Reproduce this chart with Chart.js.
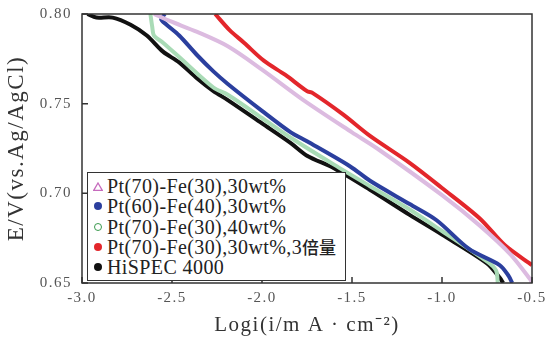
<!DOCTYPE html>
<html lang="zh">
<head>
<meta charset="utf-8">
<title>Polarization curves</title>
<script src="https://cdn.jsdelivr.net/npm/chart.js@4.4.1/dist/chart.umd.min.js"></script>
<style>
body { margin: 0; background: #fff; }
#wrap { position: relative; width: 556px; height: 338px; }
#legend {
    position: absolute; left: 87px; top: 172px; width: 259px; height: 109px;
    box-sizing: border-box; border: 1.5px solid #333; background: #fff;
    font-family: "Liberation Serif", "Times New Roman", serif; font-size: 20px;
    color: #222; letter-spacing: 0.4px; padding-top: 3px;
}
#legend div { height: 20.3px; line-height: 20px; display: flex; align-items: center; white-space: nowrap; }
#legend .mk { width: 19px; display: inline-flex; justify-content: center; align-items: center; }
#legend .dot { width: 8px; height: 8px; border-radius: 50%; box-sizing: border-box; }
#legend .cjk { font-family: "Noto Sans CJK SC", sans-serif; font-size: 17px; font-weight: 500; letter-spacing: 0; }
</style>
</head>
<body>
<div id="wrap">
<canvas id="myChart" width="556" height="338"></canvas>
<div id="legend">
    <div><span class="mk"><svg width="10" height="9"><polygon points="5,1 9.3,8.3 0.7,8.3" fill="none" stroke="#c66bbd" stroke-width="1.3"/></svg></span>Pt(70)-Fe(30),30wt%</div>
    <div><span class="mk"><span class="dot" style="background:#2b3f9e"></span></span>Pt(60)-Fe(40),30wt%</div>
    <div><span class="mk"><span class="dot" style="border:1.5px solid #3a9a4e"></span></span>Pt(70)-Fe(30),40wt%</div>
    <div><span class="mk"><span class="dot" style="background:#e3262b"></span></span>Pt(70)-Fe(30),30wt%,3<span class="cjk">倍量</span></div>
    <div><span class="mk"><span class="dot" style="background:#111"></span></span>HiSPEC 4000</div>
</div>
</div>
<script>
// tick values
var xTicks = [-3.0, -2.5, -2.0, -1.5, -1.0, -0.5];
var yTicks = [0.65, 0.70, 0.75, 0.80];

// Pt(70)-Fe(30),30wt%
var pt70x = [-2.60, -2.51, -2.36, -2.19, -2.00, -1.77, -1.50, -1.36, -1.00, -0.79, -0.62, -0.51, -0.50];
var pt70y = [0.800, 0.796, 0.790, 0.782, 0.769, 0.752, 0.734, 0.725, 0.699, 0.682, 0.666, 0.652, 0.650];

// Pt(60)-Fe(40),30wt%
var pt60x = [-2.54, -2.56, -2.53, -2.46, -2.36, -2.27, -2.19, -2.00, -1.84, -1.75, -1.51, -1.40, -1.18, -1.03, -0.85, -0.68, -0.63, -0.61];
var pt60y = [0.800, 0.797, 0.794, 0.788, 0.777, 0.768, 0.761, 0.746, 0.734, 0.729, 0.715, 0.707, 0.694, 0.685, 0.669, 0.660, 0.654, 0.650];

// Pt(70)-Fe(30),40wt%
var pt70_40x = [-2.62, -2.61, -2.60, -2.55, -2.46, -2.27, -2.19, -2.00, -1.84, -1.60, -1.40, -1.18, -1.00, -0.75, -0.70, -0.69];
var pt70_40y = [0.800, 0.793, 0.788, 0.784, 0.776, 0.759, 0.755, 0.742, 0.731, 0.716, 0.704, 0.691, 0.679, 0.662, 0.657, 0.650];

// Pt(70)-Fe(30),30wt%,3倍量
var pt70x3x = [-2.26, -2.18, -2.10, -1.99, -1.87, -1.75, -1.72, -1.55, -1.40, -1.18, -1.00, -0.79, -0.65, -0.50];
var pt70x3y = [0.800, 0.791, 0.784, 0.774, 0.766, 0.757, 0.756, 0.744, 0.732, 0.717, 0.703, 0.686, 0.671, 0.660];

// HiSPEC 4000
var hispecX = [-2.97, -2.92, -2.83, -2.73, -2.64, -2.55, -2.46, -2.36, -2.27, -2.19, -2.00, -1.84, -1.75, -1.60, -1.40, -1.18, -1.00, -0.75, -0.68, -0.66];
var hispecY = [0.800, 0.798, 0.798, 0.794, 0.788, 0.779, 0.773, 0.764, 0.757, 0.752, 0.739, 0.728, 0.721, 0.714, 0.702, 0.688, 0.677, 0.661, 0.653, 0.650];

function pts(xs, ys) {
    return xs.map(function (x, i) { return {x: x, y: ys[i]}; });
}

function series(label, xs, ys, color, width) {
    return {
        label: label,
        data: pts(xs, ys),
        borderColor: color,
        backgroundColor: color,
        borderWidth: width,
        pointRadius: 0,
        showLine: true,
        tension: 0.3,
        fill: false
    };
}

var frame = {
    id: 'frame',
    beforeUpdate: function (chart) { chart.ctx.letterSpacing = '1.5px'; },
    beforeDraw: function (chart) { chart.ctx.letterSpacing = '1.5px'; },
    afterDraw: function (chart) {
        var ctx = chart.ctx, a = chart.chartArea, x = chart.scales.x, y = chart.scales.y;
        ctx.save();
        ctx.strokeStyle = '#333';
        ctx.lineWidth = 1.5;
        ctx.strokeRect(a.left, a.top, a.right - a.left, a.bottom - a.top);
        ctx.beginPath();
        xTicks.forEach(function (v) {
            var px = x.getPixelForValue(v);
            ctx.moveTo(px, a.bottom); ctx.lineTo(px, a.bottom - 6);
        });
        yTicks.forEach(function (v) {
            var py = y.getPixelForValue(v);
            ctx.moveTo(a.left, py); ctx.lineTo(a.left + 6, py);
        });
        ctx.stroke();
        ctx.restore();
    }
};

var serif = 'Liberation Serif';

var ctx = document.getElementById("myChart").getContext("2d");
var myChart = new Chart(ctx, {
    type: 'scatter',
    data: {
        datasets: [
            series('Pt(70)-Fe(30),30wt%', pt70x, pt70y, '#dcbbe0', 4),
            series('Pt(60)-Fe(40),30wt%', pt60x, pt60y, '#2b3f9e', 4),
            series('Pt(70)-Fe(30),40wt%', pt70_40x, pt70_40y, '#a9dbb6', 4),
            series('Pt(70)-Fe(30),30wt%,3倍量', pt70x3x, pt70x3y, '#e3262b', 4),
            series('HiSPEC 4000', hispecX, hispecY, '#111111', 4)
        ]
    },
    options: {
        responsive: false,
        animation: false,
        layout: { padding: { top: 14, right: 24, left: 0, bottom: 0 } },
        plugins: { legend: { display: false }, tooltip: { enabled: false } },
        scales: {
            x: {
                type: 'linear', min: -3, max: -0.5,
                afterFit: function (s) { s.height = 55; s.paddingLeft = 0; s.paddingRight = 0; },
                afterBuildTicks: function (s) { s.ticks = xTicks.map(function (v) { return {value: v}; }); },
                grid: { display: false, drawTicks: false },
                border: { display: false },
                ticks: {
                    callback: function (v) { return v.toFixed(1); },
                    font: { family: serif, size: 15 }, color: '#555',
                    padding: 6, maxRotation: 0, autoSkip: false
                },
                title: {
                    display: true, text: 'Logi(i/m A · cm⁻²)',
                    font: { family: serif, size: 21 }, color: '#333',
                    padding: { top: 0, bottom: 0 }
                }
            },
            y: {
                type: 'linear', min: 0.65, max: 0.80,
                afterFit: function (s) { s.width = 82; s.paddingTop = 0; s.paddingBottom = 0; },
                afterBuildTicks: function (s) { s.ticks = yTicks.map(function (v) { return {value: v}; }); },
                grid: { display: false, drawTicks: false },
                border: { display: false },
                ticks: {
                    callback: function (v) { return v.toFixed(2); },
                    font: { family: serif, size: 15 }, color: '#555',
                    padding: 10
                },
                title: {
                    display: true, text: 'E/V(vs.Ag/AgCl)',
                    font: { family: serif, size: 23 }, color: '#333',
                    padding: { top: 3, bottom: 0 }
                }
            }
        }
    },
    plugins: [frame]
});
</script>
</body>
</html>
